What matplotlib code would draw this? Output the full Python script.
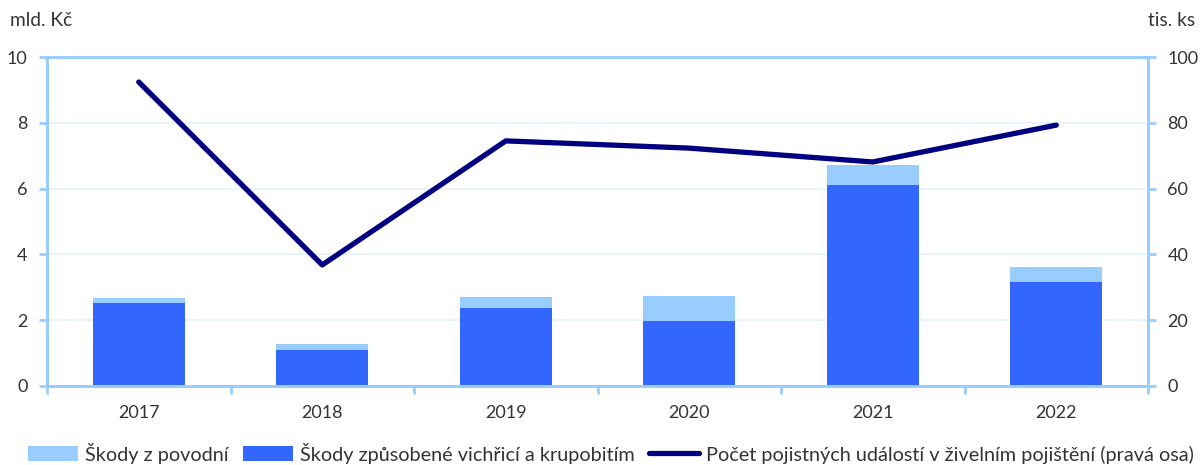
import matplotlib
matplotlib.use("Agg")
import matplotlib.pyplot as plt
import numpy as np

years = ["2017", "2018", "2019", "2020", "2021", "2022"]
wind_hail = [2.51, 1.09, 2.38, 1.97, 6.10, 3.15]
flood = [0.16, 0.19, 0.32, 0.77, 0.62, 0.48]
events = [92.4, 36.8, 74.5, 72.3, 68.1, 79.3]

plt.rcParams['font.family'] = ['Lato', 'DejaVu Sans']
txt = '#333333'
spine_c = '#99ccff'
grid_c = '#e3f1ff'
fs = 13.8
lfs = 14.3
tfs = 13

fig = plt.figure(figsize=(12.01, 4.65), dpi=100)
ax = fig.add_axes([47/1201, 1-386/465, (1148-47)/1201, (386-57)/465])
x = np.arange(len(years))
ax.bar(x, wind_hail, width=0.5, color='#3366ff', zorder=2,
       label='Škody způsobené vichřicí a krupobitím')
ax.bar(x, flood, width=0.5, bottom=wind_hail, color='#99ccff', zorder=2,
       label='Škody z povodní')
ax.set_xlim(-0.5, len(years)-0.5)
ax.set_ylim(0, 10)
ax.set_yticks(range(0, 11, 2))
ax.yaxis.grid(True, color=grid_c, linewidth=1.2, zorder=0)
ax.set_axisbelow(True)
ax.set_xticks(x)
ax.set_xticklabels(years)
ax.set_xticks(np.arange(-0.5, len(years), 1), minor=True)
ax.tick_params(axis='x', which='major', length=0, pad=14, labelsize=tfs, colors=txt)
ax.tick_params(axis='x', which='minor', length=6, width=2, color=spine_c, direction='out')
ax.tick_params(axis='y', length=6, width=2, color=spine_c, labelsize=tfs, labelcolor=txt, pad=8)
for s in ax.spines.values():
    s.set_color(spine_c)
    s.set_linewidth(2)

ax2 = ax.twinx()
ax2.plot(x, events, color='#000080', linewidth=3.8, solid_capstyle='round', zorder=3,
         label='Počet pojistných událostí v živelním pojištění (pravá osa)')
ax2.set_ylim(0, 100)
ax2.set_yticks(range(0, 101, 20))
ax2.tick_params(axis='y', length=6, width=2, color=spine_c, labelsize=tfs, labelcolor=txt, pad=8)
for s in ax2.spines.values():
    s.set_color(spine_c)
    s.set_linewidth(2)

fig.text(10/1201, 1-20/465, 'mld. Kč', fontsize=fs, color=txt, va='center', ha='left')
fig.text(1195/1201, 1-20/465, 'tis. ks', fontsize=fs, color=txt, va='center', ha='right')

h1, l1 = ax.get_legend_handles_labels()
h2, l2 = ax2.get_legend_handles_labels()
handles = [h1[1], h1[0], h2[0]]
labels = [l1[1], l1[0], l2[0]]
leg = fig.legend(handles, labels, loc='center', bbox_to_anchor=(611/1201, 1-453/465), ncol=3,
                 frameon=False, fontsize=lfs, handlelength=2.5, handleheight=0.8,
                 columnspacing=0.75, handletextpad=0.35, labelcolor=txt,
                 borderpad=0.2)
fig.savefig('out.png', dpi=100)
